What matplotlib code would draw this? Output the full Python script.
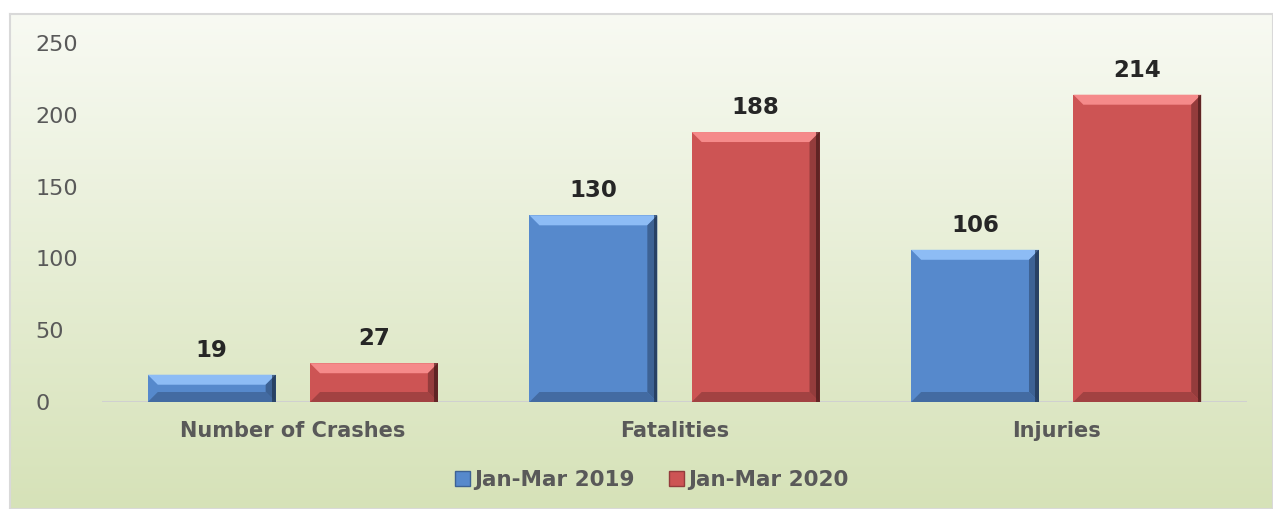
import numpy as np
import matplotlib.pyplot as plt
from matplotlib.patches import Polygon, Rectangle
from matplotlib.colors import to_rgb

categories = ["Number of Crashes", "Fatalities", "Injuries"]
series_names = ["Jan-Mar 2019", "Jan-Mar 2020"]
values_2019 = [19, 130, 106]
values_2020 = [27, 188, 214]
yticks = [0, 50, 100, 150, 200, 250]

W, H = 1273, 509
fig = plt.figure(figsize=(W / 100, H / 100), dpi=100)
fig.patch.set_facecolor("white")

# background panel with vertical gradient
bg = fig.add_axes([10 / W, 0, 1 - 10 / W, 1 - 14 / H], zorder=0)
grad = np.linspace(0, 1, 256).reshape(-1, 1)
top_c = np.array(to_rgb("#f8faf3"))
bot_c = np.array(to_rgb("#d6e2b8"))
img = top_c[None, None, :] * (1 - grad[:, :, None]) + bot_c[None, None, :] * grad[:, :, None]
bg.imshow(img, aspect="auto", extent=[0, 1, 0, 1])
bg.set_xlim(0, 1); bg.set_ylim(0, 1)
bg.set_xticks([]); bg.set_yticks([])
for s in bg.spines.values():
    s.set_color("#d9d9d9")
    s.set_linewidth(1.5)

ax = fig.add_axes([102 / W, 1 - 402 / H, 1145 / W, (402 - 43) / H], zorder=1)
ax.patch.set_alpha(0)
ax.set_xlim(-0.5, len(categories) - 0.5)
ax.set_ylim(0, 250)

x = np.arange(len(categories))
bw = 0.335
off = 0.2125
colors = ["#5689cc", "#cd5454"]
light = ["#8dbcf5", "#f58a8a"]
dark = ["#3d6294", "#943c3c"]
darkest = ["#1a2c45", "#3d1414"]

px_per_x = 1145 / 3.0
px_per_y = (402 - 43) / 250.0
bev_px = 10

def bevel_bar(x0, w, h, i):
    bx = bev_px / px_per_x
    by = bev_px / px_per_y
    by = min(by, h / 2.6)
    x1 = x0 + w
    # top
    ax.add_patch(Polygon([(x0, h), (x1, h), (x1 - bx, h - by), (x0 + bx, h - by)],
                         closed=True, facecolor=light[i], edgecolor="none", zorder=3))
    # right
    ax.add_patch(Polygon([(x1, 0), (x1, h), (x1 - bx, h - by), (x1 - bx, by)],
                         closed=True, facecolor=dark[i], edgecolor="none", zorder=3))
    # bottom
    ax.add_patch(Polygon([(x0, 0), (x1, 0), (x1 - bx, by), (x0 + bx, by)],
                         closed=True, facecolor=dark[i], edgecolor="none", zorder=3, alpha=0.75))
    # right dark edge strip
    ax.add_patch(Rectangle((x1 - bx * 0.35, 0), bx * 0.35, h, facecolor=darkest[i],
                           edgecolor="none", zorder=4, alpha=0.6))

for i, vals in enumerate([values_2019, values_2020]):
    pos = x + (-off if i == 0 else off)
    bars = ax.bar(pos, vals, width=bw, color=colors[i], zorder=2, label=series_names[i])
    for b, v in zip(bars, vals):
        bevel_bar(b.get_x(), b.get_width(), v, i)
        ax.text(b.get_x() + b.get_width() / 2, v + 9, str(v), ha="center", va="bottom",
                fontsize=16.5, fontweight="bold", color="#262626", zorder=5)

ax.axhline(0, color="#d0d0d0", lw=1.5, zorder=1)
for s in ax.spines.values():
    s.set_visible(False)
ax.set_yticks(yticks)
ax.set_yticklabels([str(t) for t in yticks], fontsize=16, color="#595959", ha="left")
ax.tick_params(axis="y", length=0, pad=48)
ax.set_xticks(x)
ax.set_xticklabels(categories, fontsize=15, fontweight="bold", color="#595959")
ax.tick_params(axis="x", length=0, pad=14)

handles = [Rectangle((0, 0), 1, 1, facecolor=colors[i], edgecolor=dark[i]) for i in range(2)]
fig.legend(handles, series_names, loc="center", bbox_to_anchor=(652 / W, 1 - 480 / H),
           ncol=2, frameon=False, prop={"size": 15.5, "weight": "bold"},
           labelcolor="#595959", handlelength=0.7, handleheight=0.7,
           handletextpad=0.2, columnspacing=1.6)

fig.savefig("out.png", dpi=100)
